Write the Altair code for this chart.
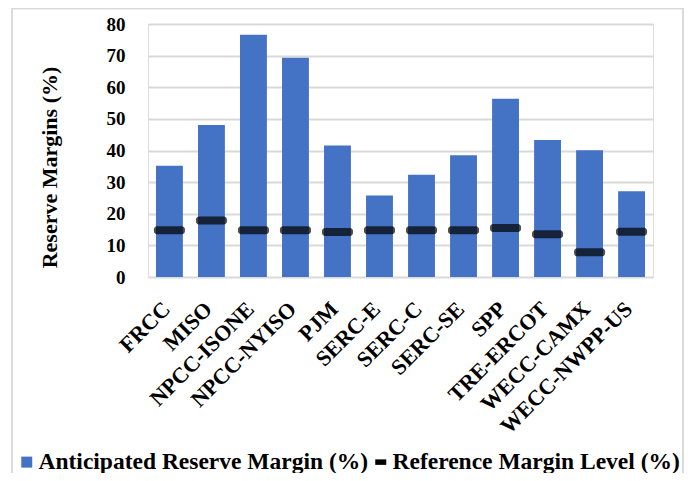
import altair as alt
import pandas as pd

regions = ["FRCC", "MISO", "NPCC-ISONE", "NPCC-NYISO", "PJM", "SERC-E",
           "SERC-C", "SERC-SE", "SPP", "TRE-ERCOT", "WECC-CAMX", "WECC-NWPP-US"]
anticipated = [35.2, 48.1, 76.6, 69.3, 41.6, 25.8, 32.3, 38.5, 56.4, 43.3, 40.1, 27.1]
reference = [14.8, 17.9, 14.8, 14.8, 14.2, 14.8, 14.8, 14.8, 15.5, 13.5, 7.8, 14.3]
series_names = ["Anticipated Reserve Margin (%)", "Reference Margin Level (%)"]
y_ticks = [0, 10, 20, 30, 40, 50, 60, 70, 80]

BLUE = "#4472C4"
GRID = "#d9d9d9"
FONT = "Liberation Serif"

df = pd.DataFrame({"region": regions, "anticipated": anticipated, "reference": reference})
legend_df = pd.DataFrame({"series": series_names, "v": [0, 0]})

x_axis = alt.Axis(labelAngle=-45, labelAlign="right", labelBaseline="top",
                  labelFont=FONT, labelFontSize=22, labelFontWeight="bold",
                  labelColor="black", labelPadding=21, labelOffset=-10,
                  ticks=False, domain=False, grid=False, labelLimit=400)
x_scale = alt.Scale(paddingInner=0.36, paddingOuter=0.19)
y_scale = alt.Scale(domain=[0, 80], nice=False)
y_axis = alt.Axis(values=y_ticks, tickCount=9, grid=True, gridColor=GRID, gridWidth=1.8,
                  ticks=False, domain=False, labelFont=FONT, labelFontSize=19,
                  labelFontWeight="bold", labelColor="black", labelPadding=23,
                  labelOverlap=False,
                  titleFont=FONT, titleFontSize=22, titleFontWeight="bold",
                  titleColor="black", titlePadding=45, titleY=143)

bars = alt.Chart(df).mark_bar(color=BLUE).encode(
    x=alt.X("region:N", sort=regions, title=None, scale=x_scale, axis=x_axis),
    y=alt.Y("anticipated:Q", scale=y_scale, title="Reserve Margins (%)", axis=y_axis),
)

ticks = alt.Chart(df).mark_tick(color="black", thickness=8, size=31, cornerRadius=3).encode(
    x=alt.X("region:N", sort=regions, title=None, scale=x_scale, axis=x_axis),
    y=alt.Y("reference:Q", scale=y_scale, title="Reserve Margins (%)", axis=y_axis),
)

legend_props = dict(title=None, orient="none", legendX=-133, legendY=426,
                    direction="horizontal", labelFont=FONT, labelFontSize=23.5,
                    labelFontWeight="bold", labelColor="black", labelLimit=500,
                    labelOffset=0, columnPadding=-1, symbolSize=121, symbolStrokeWidth=0,
                    padding=0)

legend_layer = alt.Chart(legend_df).mark_point(filled=True, opacity=1).encode(
    color=alt.Color("series:N",
                    scale=alt.Scale(domain=series_names, range=[BLUE, "#000000"]),
                    legend=alt.Legend(**legend_props)),
    shape=alt.Shape("series:N",
                    scale=alt.Scale(domain=series_names,
                                    range=["square", "M-1,-0.5L1,-0.5L1,0.5L-1,0.5Z"]),
                    legend=alt.Legend(**legend_props)),
).transform_filter("datum.v > 1")

frame = alt.Chart(legend_df).mark_rect(fill=None, stroke=GRID, strokeWidth=1.5).encode(
    x=alt.value(-136), x2=alt.value(535), y=alt.value(-15.5), y2=alt.value(480),
)

chart = alt.layer(frame, bars, ticks, legend_layer).properties(
    width=505, height=253,
    autosize=alt.AutoSizeParams(type="none"),
    padding={"left": 140, "top": 16, "right": 31, "bottom": 196},
).configure_view(stroke=None).configure(background="white")

chart.save("out.html", embed_options={"renderer": "svg", "actions": False})
